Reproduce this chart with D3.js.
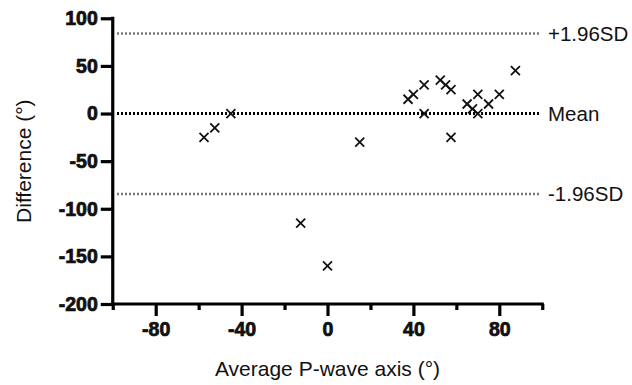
<!DOCTYPE html>
<html>
<head>
<meta charset="utf-8">
<script src="https://cdn.jsdelivr.net/npm/d3@7/dist/d3.min.js"></script>
<style>
  html, body { margin: 0; padding: 0; background: #fff; }
  svg { display: block; }
  text { font-family: "Liberation Sans", Arial, Helvetica, sans-serif; fill: #111; }
</style>
</head>
<body>
<svg id="chart" width="632" height="385"></svg>
<script>
// Data (average P-wave axis, difference)
const avgAxis = [-57.5, -52.5, -45, -12.5, 0, 15, 37.5, 40, 45, 45, 52.5, 55, 57.5, 57.5, 65, 67.5, 70, 70, 75, 80, 87.5];
const diffs   = [-25, -15, 0, -115, -160, -30, 15, 20, 30, 0, 35, 30, 25, -25, 10, 5, 20, 0, 10, 20, 45];
const xTickLabels = [-80, -40, 0, 40, 80];
const xMinorTicks = [-100, -60, -20, 20, 60, 100];
const yTickLabels = [100, 50, 0, -50, -100, -150, -200];
const refLines = [
  { name: "+1.96SD", value: 84 },
  { name: "Mean", value: 0 },
  { name: "-1.96SD", value: -84.5 }
];

const svg = d3.select("#chart");
const x = d3.scaleLinear().domain([-100, 100]).range([112.75, 542.25]);
const y = d3.scaleLinear().domain([-200, 100]).range([304, 18.3]);
const fmt = d => String(d);
const AX = 3.2;

// reference lines
svg.selectAll("line.ref").data(refLines).enter().append("line")
  .attr("class", "ref")
  .attr("x1", 117).attr("x2", 540)
  .attr("y1", d => y(d.value)).attr("y2", d => y(d.value))
  .attr("stroke", d => d.name === "Mean" ? "#000" : "#777")
  .attr("stroke-width", d => d.name === "Mean" ? 3 : 2.6)
  .attr("stroke-dasharray", "2,2");

svg.selectAll("text.ref").data(refLines).enter().append("text")
  .attr("class", "ref")
  .attr("x", 548)
  .attr("y", d => y(d.value))
  .attr("dy", "0.36em")
  .attr("font-size", 20.5)
  .text(d => d.name);

function boldTicks(g) {
  g.selectAll(".tick text")
    .attr("font-size", 19.5).attr("font-weight", 700).attr("fill", "#000")
    .attr("stroke", "#000").attr("stroke-width", 0.7).attr("paint-order", "stroke");
}

// axes
const yAxis = d3.axisLeft(y).tickValues(yTickLabels).tickSize(12).tickPadding(3).tickFormat(fmt);
const gy = svg.append("g").attr("transform", `translate(${x(-100)},0)`).call(yAxis);
gy.select(".domain").remove();
gy.selectAll(".tick line").attr("stroke", "#000").attr("stroke-width", AX);
boldTicks(gy);
gy.append("line").attr("x1", 0).attr("x2", 0).attr("y1", y(100) - AX / 2).attr("y2", y(-200))
  .attr("stroke", "#000").attr("stroke-width", AX);

const xAxis = d3.axisBottom(x).tickValues(xTickLabels).tickSize(12).tickPadding(6).tickFormat(fmt);
const gx = svg.append("g").attr("transform", `translate(0,${y(-200)})`).call(xAxis);
gx.select(".domain").remove();
gx.selectAll(".tick line").attr("stroke", "#000").attr("stroke-width", AX);
boldTicks(gx);
gx.append("line").attr("x1", x(-100) - AX / 2).attr("x2", x(100) + AX / 2).attr("y1", 0).attr("y2", 0)
  .attr("stroke", "#000").attr("stroke-width", AX);

const minor = d3.axisBottom(x).tickValues(xMinorTicks).tickSize(6).tickFormat("");
const gm = svg.append("g").attr("transform", `translate(0,${y(-200)})`).call(minor);
gm.select(".domain").remove();
gm.selectAll(".tick line").attr("stroke", "#000").attr("stroke-width", AX);

// points as crosses
const pts = avgAxis.map((v, i) => ({ x: v, y: diffs[i] }));
const s = 4.5;
svg.selectAll("path.pt").data(pts).enter().append("path")
  .attr("class", "pt")
  .attr("d", d => {
    const cx = x(d.x), cy = y(d.y);
    return `M${cx - s},${cy - s}L${cx + s},${cy + s}M${cx - s},${cy + s}L${cx + s},${cy - s}`;
  })
  .attr("stroke", "#111").attr("stroke-width", 1.8).attr("fill", "none");

// axis titles
svg.append("text")
  .attr("x", x(0)).attr("y", 376)
  .attr("text-anchor", "middle").attr("font-size", 21)
  .text("Average P-wave axis (°)");

svg.append("text")
  .attr("transform", `translate(31,${(y(100) + y(-200)) / 2}) rotate(-90)`)
  .attr("text-anchor", "middle").attr("font-size", 21)
  .text("Difference (°)");
</script>
</body>
</html>
